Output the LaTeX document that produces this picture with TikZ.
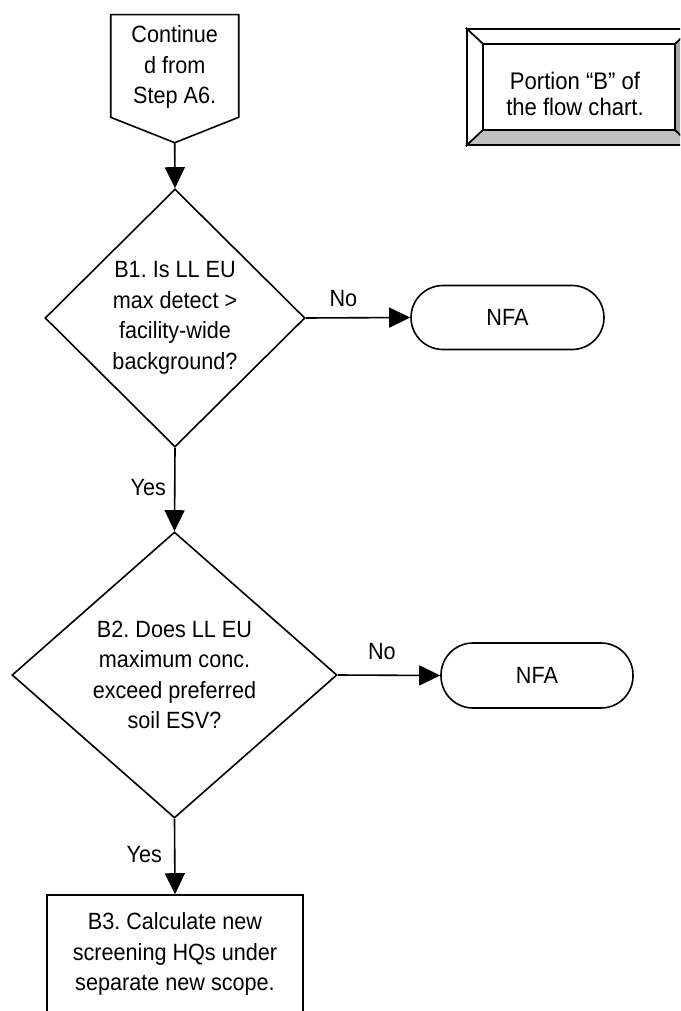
\documentclass[tikz,border=0pt]{standalone}
\usepackage{fontspec}
\setmainfont{Liberation Sans}[FakeStretch=0.92]
\frenchspacing
\usetikzlibrary{shapes.geometric,arrows.meta}
\tikzset{
  txt/.style={font={\fontsize{23.5pt}{30.5pt}\selectfont}, align=center, inner sep=0pt},
  ln/.style={line width=1.6pt, line join=miter},
  arr/.style={ln, -{Triangle[length=21pt,width=20pt]}},
  decision/.style={txt, ln, draw, diamond, aspect=1},
  terminal/.style={txt, ln, draw, rounded corners=32pt, minimum width=193pt, minimum height=64pt},
  process/.style={txt, ln, draw, minimum width=256pt, minimum height=118pt},
  lbl/.style={font={\fontsize{23.5pt}{25pt}\selectfont}, inner sep=0pt}
}
\begin{document}
\begin{tikzpicture}[x=1pt,y=-1pt]
\useasboundingbox (0,0) rectangle (680,1011);
\clip (0,0) rectangle (680,1011);
\fill[white] (0,0) rectangle (680,1011);

% off-page connector
\node[txt, minimum width=128pt, minimum height=102.6pt] (c0) at (174.7,67) {Continue\\d from\\Step A6.};
\coordinate (c0tip) at (174.7,142.7);
\draw[ln] (110.7,117.3) -- (110.7,14.7) -- (238.7,14.7) -- (238.7,117.3) -- (c0tip) -- cycle;

% bevel box
\coordinate (o1) at (467,29); \coordinate (o2) at (691,29);
\coordinate (o3) at (691,145); \coordinate (o4) at (467,145);
\coordinate (i1) at (483,44); \coordinate (i2) at (675,44);
\coordinate (i3) at (675,130); \coordinate (i4) at (483,130);
\filldraw[ln, fill=white] (o1) -- (o2) -- (i2) -- (i1) -- cycle;
\filldraw[ln, fill=white] (o1) -- (i1) -- (i4) -- (o4) -- cycle;
\filldraw[ln, fill={rgb,255:red,192;green,192;blue,192}] (o4) -- (i4) -- (i3) -- (o3) -- cycle;
\filldraw[ln, fill={rgb,255:red,165;green,165;blue,165}] (o2) -- (i2) -- (i3) -- (o3) -- cycle;
\draw[ln] (i1) rectangle (i3);
\node[txt, font={\fontsize{24pt}{26pt}\selectfont}] (pb) at (575,94) {Portion “B” of\\the flow chart.};

% decisions
\node[decision, minimum width=260pt, minimum height=258pt] (b1) at (175,318)
  {B1. Is LL EU\\max detect >\\facility-wide\\background?};
\node[terminal] (n1) at (507.5,317.5) {NFA};
\node[decision, minimum width=325pt, minimum height=286pt] (b2) at (174.5,675)
  {B2. Does LL EU\\maximum conc.\\exceed preferred\\soil ESV?};
\node[terminal, minimum width=192pt, minimum height=65pt] (n2) at (537,675.5) {NFA};
\node[process] (b3) at (175,954) {B3. Calculate new\\screening HQs under\\separate new scope.};

% connectors
\draw[arr] (c0tip) -- (b1.north);
\draw[arr] (b1.east) -- node[lbl, pos=0.36, yshift=19pt] {No} (n1.west);
\draw[arr] (b1.south) -- node[lbl, pos=0.48, xshift=-26.5pt] {Yes} (b2.north);
\draw[arr] (b2.east) -- node[lbl, pos=0.43, yshift=24pt] {No} (n2.west);
\draw[arr] (b2.south) -- node[lbl, pos=0.48, xshift=-30.5pt] {Yes} (b3.north);
\end{tikzpicture}
\end{document}
